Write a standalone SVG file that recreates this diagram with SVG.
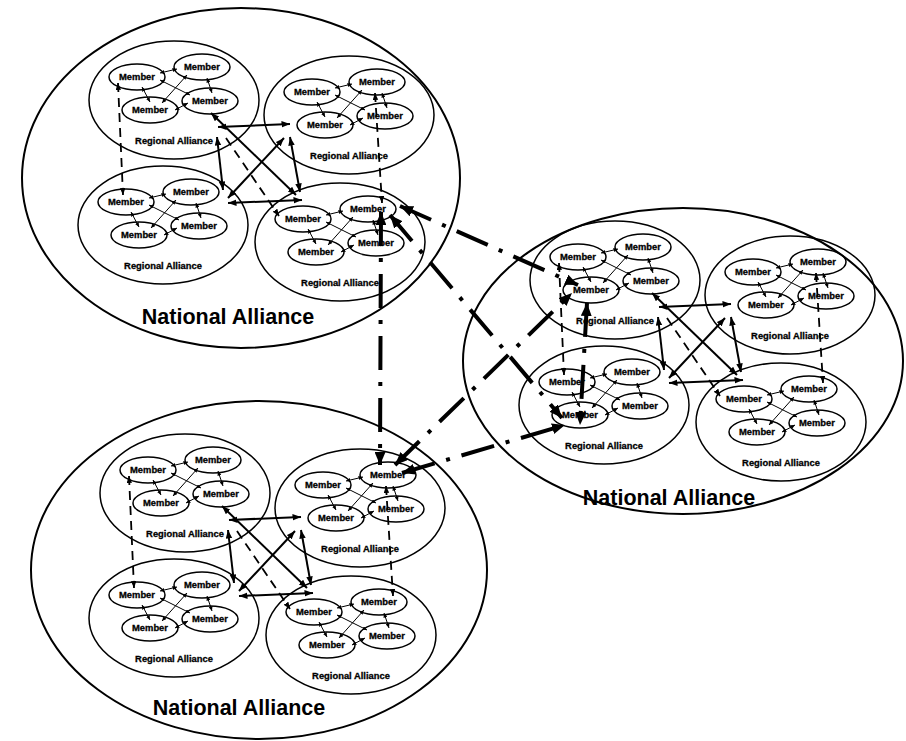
<svg xmlns="http://www.w3.org/2000/svg" width="906" height="741" viewBox="0 0 906 741">
<style>
.bg{fill:#fff}
.nae{fill:none;stroke:#000;stroke-width:2}
.rae{fill:none;stroke:#000;stroke-width:1.5}
.me{fill:none;stroke:#000;stroke-width:1.5}
.mt{font-family:"Liberation Sans",Arial,sans-serif;font-weight:bold;font-size:9.4px;text-anchor:middle;fill:#000;stroke:#000;stroke-width:0.3}
.rl{font-family:"Liberation Sans",Arial,sans-serif;font-weight:bold;font-size:9.4px;text-anchor:middle;fill:#000;stroke:#000;stroke-width:0.3}
.nl{font-family:"Liberation Sans",Arial,sans-serif;font-weight:bold;font-size:21.5px;text-anchor:middle;fill:#000}
.ml line{stroke:#000;stroke-width:1;marker-start:url(#am);marker-end:url(#am)}
.rlk line{stroke:#000;stroke-width:2;marker-start:url(#ar);marker-end:url(#ar)}
.rlk line.d{stroke-width:1.8;stroke-dasharray:9 6}
.rlk line.d1{marker-start:none;marker-end:url(#ad)}
.rlk line.d2{marker-start:url(#ad);marker-end:url(#ad)}
.nlk line{stroke:#000;stroke-width:4;stroke-dasharray:34 12 4 12;marker-start:url(#an);marker-end:url(#an)}
</style>
<defs>
<marker id="am" markerUnits="userSpaceOnUse" markerWidth="5" markerHeight="4" refX="4.5" refY="2" orient="auto-start-reverse"><path d="M0,0 L4.5,2 L0,4 z" fill="#000"/></marker>
<marker id="ar" markerUnits="userSpaceOnUse" markerWidth="9" markerHeight="7" refX="8.5" refY="3.25" orient="auto-start-reverse"><path d="M0,0 L8.5,3.25 L0,6.5 z" fill="#000"/></marker>
<marker id="ad" markerUnits="userSpaceOnUse" markerWidth="7" markerHeight="6" refX="7" refY="2.75" orient="auto-start-reverse"><path d="M0,0 L7,2.75 L0,5.5 z" fill="#000"/></marker>
<marker id="an" markerUnits="userSpaceOnUse" markerWidth="13" markerHeight="11" refX="13" refY="5.5" orient="auto-start-reverse"><path d="M0,0 L13,5.5 L0,11 z" fill="#000"/></marker>
</defs>
<rect class="bg" x="0" y="0" width="906" height="741"/>

<!-- National Alliance 1 (top-left) -->
<g id="na1">
<ellipse class="nae" cx="241" cy="178" rx="219" ry="170"/>
<text class="nl" x="228" y="324">National Alliance</text>
<g id="na1-ra1" transform="translate(174,100)">
<ellipse class="rae" rx="85" ry="59"/>
<g id="na1-ra1-m1"><ellipse class="me" cx="-37" cy="-23" rx="28" ry="13"/><text class="mt" x="-37" y="-19.7">Member</text></g>
<g id="na1-ra1-m2"><ellipse class="me" cx="28" cy="-33" rx="28" ry="13"/><text class="mt" x="28" y="-29.7">Member</text></g>
<g id="na1-ra1-m3"><ellipse class="me" cx="-24" cy="10" rx="28" ry="13"/><text class="mt" x="-24" y="13.3">Member</text></g>
<g id="na1-ra1-m4"><ellipse class="me" cx="36" cy="1" rx="28" ry="13"/><text class="mt" x="36" y="4.3">Member</text></g>
<text class="rl" x="0" y="44">Regional Alliance</text>
</g>
<g id="na1-ra2" transform="translate(349,115)">
<ellipse class="rae" rx="85" ry="59"/>
<g id="na1-ra2-m1"><ellipse class="me" cx="-37" cy="-23" rx="28" ry="13"/><text class="mt" x="-37" y="-19.7">Member</text></g>
<g id="na1-ra2-m2"><ellipse class="me" cx="28" cy="-33" rx="28" ry="13"/><text class="mt" x="28" y="-29.7">Member</text></g>
<g id="na1-ra2-m3"><ellipse class="me" cx="-24" cy="10" rx="28" ry="13"/><text class="mt" x="-24" y="13.3">Member</text></g>
<g id="na1-ra2-m4"><ellipse class="me" cx="36" cy="1" rx="28" ry="13"/><text class="mt" x="36" y="4.3">Member</text></g>
<text class="rl" x="0" y="44">Regional Alliance</text>
</g>
<g id="na1-ra3" transform="translate(163,225)">
<ellipse class="rae" rx="85" ry="59"/>
<g id="na1-ra3-m1"><ellipse class="me" cx="-37" cy="-23" rx="28" ry="13"/><text class="mt" x="-37" y="-19.7">Member</text></g>
<g id="na1-ra3-m2"><ellipse class="me" cx="28" cy="-33" rx="28" ry="13"/><text class="mt" x="28" y="-29.7">Member</text></g>
<g id="na1-ra3-m3"><ellipse class="me" cx="-24" cy="10" rx="28" ry="13"/><text class="mt" x="-24" y="13.3">Member</text></g>
<g id="na1-ra3-m4"><ellipse class="me" cx="36" cy="1" rx="28" ry="13"/><text class="mt" x="36" y="4.3">Member</text></g>
<text class="rl" x="0" y="44">Regional Alliance</text>
</g>
<g id="na1-ra4" transform="translate(340,242)">
<ellipse class="rae" rx="85" ry="59"/>
<g id="na1-ra4-m1"><ellipse class="me" cx="-37" cy="-23" rx="28" ry="13"/><text class="mt" x="-37" y="-19.7">Member</text></g>
<g id="na1-ra4-m2"><ellipse class="me" cx="28" cy="-33" rx="28" ry="13"/><text class="mt" x="28" y="-29.7">Member</text></g>
<g id="na1-ra4-m3"><ellipse class="me" cx="-24" cy="10" rx="28" ry="13"/><text class="mt" x="-24" y="13.3">Member</text></g>
<g id="na1-ra4-m4"><ellipse class="me" cx="36" cy="1" rx="28" ry="13"/><text class="mt" x="36" y="4.3">Member</text></g>
<text class="rl" x="0" y="44">Regional Alliance</text>
</g>
</g>

<!-- National Alliance 2 (bottom-left) -->
<g id="na2">
<ellipse class="nae" cx="259" cy="570" rx="228" ry="169"/>
<text class="nl" x="239" y="715">National Alliance</text>
<g id="na2-ra1" transform="translate(185,493)">
<ellipse class="rae" rx="85" ry="59"/>
<g id="na2-ra1-m1"><ellipse class="me" cx="-37" cy="-23" rx="28" ry="13"/><text class="mt" x="-37" y="-19.7">Member</text></g>
<g id="na2-ra1-m2"><ellipse class="me" cx="28" cy="-33" rx="28" ry="13"/><text class="mt" x="28" y="-29.7">Member</text></g>
<g id="na2-ra1-m3"><ellipse class="me" cx="-24" cy="10" rx="28" ry="13"/><text class="mt" x="-24" y="13.3">Member</text></g>
<g id="na2-ra1-m4"><ellipse class="me" cx="36" cy="1" rx="28" ry="13"/><text class="mt" x="36" y="4.3">Member</text></g>
<text class="rl" x="0" y="44">Regional Alliance</text>
</g>
<g id="na2-ra2" transform="translate(360,508)">
<ellipse class="rae" rx="85" ry="59"/>
<g id="na2-ra2-m1"><ellipse class="me" cx="-37" cy="-23" rx="28" ry="13"/><text class="mt" x="-37" y="-19.7">Member</text></g>
<g id="na2-ra2-m2"><ellipse class="me" cx="28" cy="-33" rx="28" ry="13"/><text class="mt" x="28" y="-29.7">Member</text></g>
<g id="na2-ra2-m3"><ellipse class="me" cx="-24" cy="10" rx="28" ry="13"/><text class="mt" x="-24" y="13.3">Member</text></g>
<g id="na2-ra2-m4"><ellipse class="me" cx="36" cy="1" rx="28" ry="13"/><text class="mt" x="36" y="4.3">Member</text></g>
<text class="rl" x="0" y="44">Regional Alliance</text>
</g>
<g id="na2-ra3" transform="translate(174,618)">
<ellipse class="rae" rx="85" ry="59"/>
<g id="na2-ra3-m1"><ellipse class="me" cx="-37" cy="-23" rx="28" ry="13"/><text class="mt" x="-37" y="-19.7">Member</text></g>
<g id="na2-ra3-m2"><ellipse class="me" cx="28" cy="-33" rx="28" ry="13"/><text class="mt" x="28" y="-29.7">Member</text></g>
<g id="na2-ra3-m3"><ellipse class="me" cx="-24" cy="10" rx="28" ry="13"/><text class="mt" x="-24" y="13.3">Member</text></g>
<g id="na2-ra3-m4"><ellipse class="me" cx="36" cy="1" rx="28" ry="13"/><text class="mt" x="36" y="4.3">Member</text></g>
<text class="rl" x="0" y="44">Regional Alliance</text>
</g>
<g id="na2-ra4" transform="translate(351,635)">
<ellipse class="rae" rx="85" ry="59"/>
<g id="na2-ra4-m1"><ellipse class="me" cx="-37" cy="-23" rx="28" ry="13"/><text class="mt" x="-37" y="-19.7">Member</text></g>
<g id="na2-ra4-m2"><ellipse class="me" cx="28" cy="-33" rx="28" ry="13"/><text class="mt" x="28" y="-29.7">Member</text></g>
<g id="na2-ra4-m3"><ellipse class="me" cx="-24" cy="10" rx="28" ry="13"/><text class="mt" x="-24" y="13.3">Member</text></g>
<g id="na2-ra4-m4"><ellipse class="me" cx="36" cy="1" rx="28" ry="13"/><text class="mt" x="36" y="4.3">Member</text></g>
<text class="rl" x="0" y="44">Regional Alliance</text>
</g>
</g>

<!-- National Alliance 3 (right) -->
<g id="na3">
<ellipse class="nae" cx="683" cy="361" rx="220" ry="153"/>
<text class="nl" x="669" y="505">National Alliance</text>
<g id="na3-ra1" transform="translate(615,280)">
<ellipse class="rae" rx="85" ry="59"/>
<g id="na3-ra1-m1"><ellipse class="me" cx="-37" cy="-23" rx="28" ry="13"/><text class="mt" x="-37" y="-19.7">Member</text></g>
<g id="na3-ra1-m2"><ellipse class="me" cx="28" cy="-33" rx="28" ry="13"/><text class="mt" x="28" y="-29.7">Member</text></g>
<g id="na3-ra1-m3"><ellipse class="me" cx="-24" cy="10" rx="28" ry="13"/><text class="mt" x="-24" y="13.3">Member</text></g>
<g id="na3-ra1-m4"><ellipse class="me" cx="36" cy="1" rx="28" ry="13"/><text class="mt" x="36" y="4.3">Member</text></g>
<text class="rl" x="0" y="44">Regional Alliance</text>
</g>
<g id="na3-ra2" transform="translate(790,295)">
<ellipse class="rae" rx="85" ry="59"/>
<g id="na3-ra2-m1"><ellipse class="me" cx="-37" cy="-23" rx="28" ry="13"/><text class="mt" x="-37" y="-19.7">Member</text></g>
<g id="na3-ra2-m2"><ellipse class="me" cx="28" cy="-33" rx="28" ry="13"/><text class="mt" x="28" y="-29.7">Member</text></g>
<g id="na3-ra2-m3"><ellipse class="me" cx="-24" cy="10" rx="28" ry="13"/><text class="mt" x="-24" y="13.3">Member</text></g>
<g id="na3-ra2-m4"><ellipse class="me" cx="36" cy="1" rx="28" ry="13"/><text class="mt" x="36" y="4.3">Member</text></g>
<text class="rl" x="0" y="44">Regional Alliance</text>
</g>
<g id="na3-ra3" transform="translate(604,405)">
<ellipse class="rae" rx="85" ry="59"/>
<g id="na3-ra3-m1"><ellipse class="me" cx="-37" cy="-23" rx="28" ry="13"/><text class="mt" x="-37" y="-19.7">Member</text></g>
<g id="na3-ra3-m2"><ellipse class="me" cx="28" cy="-33" rx="28" ry="13"/><text class="mt" x="28" y="-29.7">Member</text></g>
<g id="na3-ra3-m3"><ellipse class="me" cx="-24" cy="10" rx="28" ry="13"/><text class="mt" x="-24" y="13.3">Member</text></g>
<g id="na3-ra3-m4"><ellipse class="me" cx="36" cy="1" rx="28" ry="13"/><text class="mt" x="36" y="4.3">Member</text></g>
<text class="rl" x="0" y="44">Regional Alliance</text>
</g>
<g id="na3-ra4" transform="translate(781,422)">
<ellipse class="rae" rx="85" ry="59"/>
<g id="na3-ra4-m1"><ellipse class="me" cx="-37" cy="-23" rx="28" ry="13"/><text class="mt" x="-37" y="-19.7">Member</text></g>
<g id="na3-ra4-m2"><ellipse class="me" cx="28" cy="-33" rx="28" ry="13"/><text class="mt" x="28" y="-29.7">Member</text></g>
<g id="na3-ra4-m3"><ellipse class="me" cx="-24" cy="10" rx="28" ry="13"/><text class="mt" x="-24" y="13.3">Member</text></g>
<g id="na3-ra4-m4"><ellipse class="me" cx="36" cy="1" rx="28" ry="13"/><text class="mt" x="36" y="4.3">Member</text></g>
<text class="rl" x="0" y="44">Regional Alliance</text>
</g>
</g>

<!-- Connectors -->
<g id="connectors">
<g id="na1-links" transform="translate(174,100)">
<g class="ml"><line x1="-14" y1="-27" x2="3" y2="-31"/><line x1="-32" y1="-13" x2="-24" y2="2"/><line x1="33" y1="-22" x2="38" y2="-7"/><line x1="13" y1="-25" x2="-12" y2="3"/><line x1="-14" y1="-20" x2="16" y2="-5"/><line x1="1" y1="10" x2="14" y2="3"/></g>
<g class="ml" transform="translate(175,15)"><line x1="-14" y1="-27" x2="3" y2="-31"/><line x1="-32" y1="-13" x2="-24" y2="2"/><line x1="33" y1="-22" x2="38" y2="-7"/><line x1="13" y1="-25" x2="-12" y2="3"/><line x1="-14" y1="-20" x2="16" y2="-5"/><line x1="1" y1="10" x2="14" y2="3"/></g>
<g class="ml" transform="translate(-11,125)"><line x1="-14" y1="-27" x2="3" y2="-31"/><line x1="-32" y1="-13" x2="-24" y2="2"/><line x1="33" y1="-22" x2="38" y2="-7"/><line x1="13" y1="-25" x2="-12" y2="3"/><line x1="-14" y1="-20" x2="16" y2="-5"/><line x1="1" y1="10" x2="14" y2="3"/></g>
<g class="ml" transform="translate(166,142)"><line x1="-14" y1="-27" x2="3" y2="-31"/><line x1="-32" y1="-13" x2="-24" y2="2"/><line x1="33" y1="-22" x2="38" y2="-7"/><line x1="13" y1="-25" x2="-12" y2="3"/><line x1="-14" y1="-20" x2="16" y2="-5"/><line x1="1" y1="10" x2="14" y2="3"/></g>
<g class="rlk">
<line x1="44" y1="27" x2="116" y2="24"/>
<line x1="43" y1="37" x2="49" y2="90"/>
<line x1="54" y1="98" x2="110" y2="38"/>
<line x1="116" y1="37" x2="126" y2="92"/>
<line x1="54" y1="103" x2="128" y2="100"/>
<line x1="37" y1="13" x2="122" y2="95"/>
<line class="d d1" x1="52" y1="38" x2="105" y2="116"/>
<line class="d d2" x1="-56" y1="-17" x2="-51" y2="95"/>
<line class="d d2" x1="201" y1="-7" x2="208" y2="103"/>
</g>
</g>
<g id="na2-links" transform="translate(185,493)">
<g class="ml"><line x1="-14" y1="-27" x2="3" y2="-31"/><line x1="-32" y1="-13" x2="-24" y2="2"/><line x1="33" y1="-22" x2="38" y2="-7"/><line x1="13" y1="-25" x2="-12" y2="3"/><line x1="-14" y1="-20" x2="16" y2="-5"/><line x1="1" y1="10" x2="14" y2="3"/></g>
<g class="ml" transform="translate(175,15)"><line x1="-14" y1="-27" x2="3" y2="-31"/><line x1="-32" y1="-13" x2="-24" y2="2"/><line x1="33" y1="-22" x2="38" y2="-7"/><line x1="13" y1="-25" x2="-12" y2="3"/><line x1="-14" y1="-20" x2="16" y2="-5"/><line x1="1" y1="10" x2="14" y2="3"/></g>
<g class="ml" transform="translate(-11,125)"><line x1="-14" y1="-27" x2="3" y2="-31"/><line x1="-32" y1="-13" x2="-24" y2="2"/><line x1="33" y1="-22" x2="38" y2="-7"/><line x1="13" y1="-25" x2="-12" y2="3"/><line x1="-14" y1="-20" x2="16" y2="-5"/><line x1="1" y1="10" x2="14" y2="3"/></g>
<g class="ml" transform="translate(166,142)"><line x1="-14" y1="-27" x2="3" y2="-31"/><line x1="-32" y1="-13" x2="-24" y2="2"/><line x1="33" y1="-22" x2="38" y2="-7"/><line x1="13" y1="-25" x2="-12" y2="3"/><line x1="-14" y1="-20" x2="16" y2="-5"/><line x1="1" y1="10" x2="14" y2="3"/></g>
<g class="rlk">
<line x1="44" y1="27" x2="116" y2="24"/>
<line x1="43" y1="37" x2="49" y2="90"/>
<line x1="54" y1="98" x2="110" y2="38"/>
<line x1="116" y1="37" x2="126" y2="92"/>
<line x1="54" y1="103" x2="128" y2="100"/>
<line x1="37" y1="13" x2="122" y2="95"/>
<line class="d d1" x1="52" y1="38" x2="105" y2="116"/>
<line class="d d2" x1="-56" y1="-17" x2="-51" y2="95"/>
<line class="d d2" x1="201" y1="-7" x2="208" y2="103"/>
</g>
</g>
<g id="na3-links" transform="translate(615,280)">
<g class="ml"><line x1="-14" y1="-27" x2="3" y2="-31"/><line x1="-32" y1="-13" x2="-24" y2="2"/><line x1="33" y1="-22" x2="38" y2="-7"/><line x1="13" y1="-25" x2="-12" y2="3"/><line x1="-14" y1="-20" x2="16" y2="-5"/><line x1="1" y1="10" x2="14" y2="3"/></g>
<g class="ml" transform="translate(175,15)"><line x1="-14" y1="-27" x2="3" y2="-31"/><line x1="-32" y1="-13" x2="-24" y2="2"/><line x1="33" y1="-22" x2="38" y2="-7"/><line x1="13" y1="-25" x2="-12" y2="3"/><line x1="-14" y1="-20" x2="16" y2="-5"/><line x1="1" y1="10" x2="14" y2="3"/></g>
<g class="ml" transform="translate(-11,125)"><line x1="-14" y1="-27" x2="3" y2="-31"/><line x1="-32" y1="-13" x2="-24" y2="2"/><line x1="33" y1="-22" x2="38" y2="-7"/><line x1="13" y1="-25" x2="-12" y2="3"/><line x1="-14" y1="-20" x2="16" y2="-5"/><line x1="1" y1="10" x2="14" y2="3"/></g>
<g class="ml" transform="translate(166,142)"><line x1="-14" y1="-27" x2="3" y2="-31"/><line x1="-32" y1="-13" x2="-24" y2="2"/><line x1="33" y1="-22" x2="38" y2="-7"/><line x1="13" y1="-25" x2="-12" y2="3"/><line x1="-14" y1="-20" x2="16" y2="-5"/><line x1="1" y1="10" x2="14" y2="3"/></g>
<g class="rlk">
<line x1="44" y1="27" x2="116" y2="24"/>
<line x1="43" y1="37" x2="49" y2="90"/>
<line x1="54" y1="98" x2="110" y2="38"/>
<line x1="116" y1="37" x2="126" y2="92"/>
<line x1="54" y1="103" x2="128" y2="100"/>
<line x1="37" y1="13" x2="122" y2="95"/>
<line class="d d1" x1="52" y1="38" x2="105" y2="116"/>
<line class="d d2" x1="-56" y1="-17" x2="-51" y2="95"/>
<line class="d d2" x1="201" y1="-7" x2="208" y2="103"/>
</g>
</g>
<g id="national-links" class="nlk">
<line x1="400" y1="206" x2="578" y2="285"/>
<line x1="390" y1="215" x2="562" y2="418"/>
<line x1="381" y1="212" x2="380" y2="465"/>
<line x1="395" y1="465" x2="572" y2="293"/>
<line x1="402" y1="473" x2="565" y2="425"/>
<line x1="587" y1="303" x2="580" y2="425"/>
</g>
</g>
</svg>
